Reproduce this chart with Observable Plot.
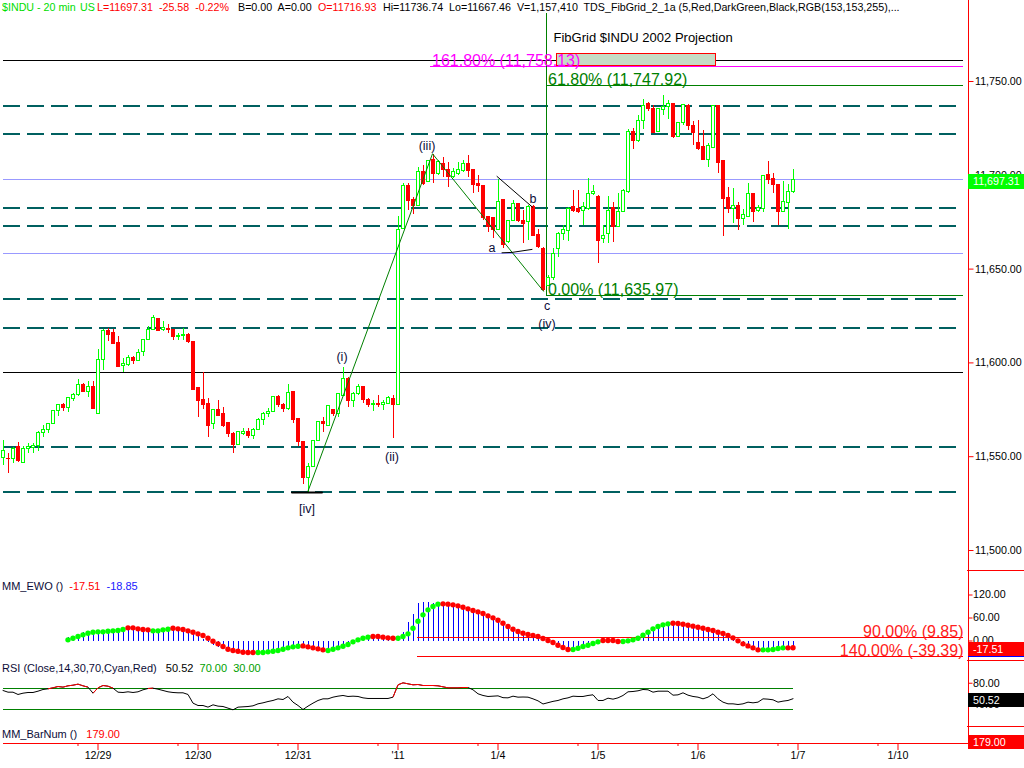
<!DOCTYPE html>
<html><head><meta charset="utf-8">
<script src="https://cdn.jsdelivr.net/npm/d3@7"></script>
<script src="https://cdn.jsdelivr.net/npm/@observablehq/plot@0.6"></script>
<style>
html,body{margin:0;padding:0;background:#fff;}
#chart{position:relative;width:1024px;height:768px;overflow:hidden;font-family:"Liberation Sans",Arial,Helvetica,sans-serif;}
.pane{position:absolute;left:0;width:1024px;}
.pane svg{display:block;}
.lbl{position:absolute;white-space:pre;font-size:11px;line-height:14px;}
.hdr{position:absolute;white-space:pre;font-size:10.7px;line-height:14px;}
.box{position:absolute;left:968px;width:56px;color:#fff;font-size:10.7px;box-sizing:border-box;padding-left:5px;}
.sep{position:absolute;left:967px;width:57px;height:1px;background:#f00;}
</style></head><body>
<div id="chart"></div>
<script>
// ---------------- data ----------------
const dateLabels = ["12/29","12/30","12/31","'11","1/4","1/5","1/6","1/7","1/10"];
const dateTickBars = [19,39,59,79,99,119,139,159,179];
const minorTickBars = [15,35,55,75,95,115,135,155,175];

const open = [11549.4,11549.0,11548.9,11555.1,11546.4,11554.2,11554.7,11555.5,11562.6,11564.2,
11567.5,11574.1,11577.7,11576.1,11580.5,11582.8,11588.3,11584.4,11587.4,11572.9,
11601.6,11617.1,11615.7,11610.4,11598.3,11599.0,11602.4,11601.0,11605.7,11612.3,
11617.6,11623.5,11617.6,11618.2,11617.8,11613.7,11614.1,11615.1,11611.4,11586.4,
11580.0,11578.2,11567.2,11575.0,11572.9,11567.9,11562.2,11556.0,11562.2,11563.1,
11560.9,11564.3,11569.7,11572.7,11573.7,11581.7,11577.7,11575.5,11584.4,11570.2,
11558.1,11538.7,11544.4,11558.3,11568.4,11566.6,11575.0,11572.5,11582.6,11591.5,
11579.6,11583.5,11587.4,11580.3,11577.3,11578.2,11577.7,11578.2,11580.9,11577.7,
11671.5,11694.2,11686.6,11683.9,11702.0,11696.3,11707.9,11700.8,11706.1,11702.6,
11699.0,11700.8,11702.2,11706.1,11702.6,11695.5,11694.2,11677.7,11677.3,11670.6,
11686.6,11664.4,11675.9,11684.8,11675.9,11675.0,11683.0,11668.3,11660.8,11640.9,
11645.4,11660.8,11668.8,11670.2,11683.0,11682.1,11680.9,11682.1,11689.8,11688.7,
11666.1,11668.8,11682.7,11672.7,11680.4,11691.0,11723.0,11718.2,11728.9,11738.1,
11735.4,11723.0,11734.9,11736.3,11738.1,11720.3,11728.0,11736.8,11726.5,11717.1,
11715.0,11708.4,11714.6,11736.7,11707.4,11687.8,11682.1,11683.9,11676.8,11678.0,
11690.1,11681.2,11682.1,11699.9,11698.1,11694.9,11680.4,11685.1,11691.0];
const high = [11558.6,11551.5,11555.1,11557.4,11555.6,11556.9,11556.9,11563.4,11566.6,11567.9,
11574.6,11577.7,11578.2,11581.7,11583.9,11591.2,11589.2,11589.9,11590.3,11607.0,
11617.6,11618.3,11617.6,11614.1,11602.2,11604.0,11603.6,11607.2,11612.5,11619.4,
11625.3,11623.5,11621.9,11620.5,11617.8,11615.9,11618.5,11615.9,11611.4,11586.4,
11594.7,11580.9,11575.0,11580.0,11576.4,11568.4,11563.1,11563.1,11564.9,11564.9,
11564.9,11570.2,11573.7,11575.5,11582.1,11582.6,11578.2,11588.5,11584.4,11570.2,
11558.1,11546.2,11558.6,11568.4,11570.7,11576.8,11575.4,11583.2,11597.4,11592.4,
11584.4,11588.5,11587.4,11580.9,11580.0,11582.6,11580.0,11582.1,11582.6,11678.0,
11695.5,11695.5,11688.4,11704.0,11705.2,11707.5,11711.0,11707.9,11709.7,11707.0,
11703.4,11707.0,11707.9,11710.6,11702.6,11699.9,11694.2,11678.1,11677.3,11697.6,
11686.6,11675.9,11686.6,11684.8,11681.2,11683.9,11683.9,11671.0,11661.7,11646.6,
11660.8,11669.7,11673.2,11683.0,11691.9,11691.9,11685.7,11698.1,11694.6,11689.2,
11673.2,11688.7,11685.7,11690.5,11692.3,11724.2,11724.8,11731.9,11740.2,11738.6,
11737.2,11735.4,11742.5,11739.9,11738.1,11728.0,11737.7,11737.7,11728.9,11729.2,
11723.9,11717.1,11736.7,11736.7,11707.4,11693.7,11693.1,11685.7,11681.6,11695.5,
11690.5,11683.9,11699.4,11707.4,11700.8,11694.9,11696.7,11695.1,11703.1];
const low = [11545.3,11541.2,11546.2,11547.1,11546.2,11551.5,11551.9,11553.0,11560.4,11562.6,
11567.2,11571.6,11574.3,11573.7,11579.6,11582.3,11584.4,11581.7,11575.4,11572.9,
11596.0,11611.6,11610.0,11597.7,11595.1,11598.3,11599.0,11600.8,11603.6,11612.3,
11617.1,11616.6,11616.9,11615.9,11612.0,11612.0,11612.0,11610.5,11585.5,11571.1,
11575.0,11560.4,11564.3,11571.6,11565.4,11560.4,11551.9,11556.0,11561.3,11559.5,
11559.0,11563.9,11566.6,11571.1,11573.7,11576.1,11573.7,11574.6,11567.5,11555.4,
11535.2,11531.1,11544.4,11558.3,11563.1,11566.6,11571.5,11571.1,11582.1,11576.1,
11576.4,11582.6,11578.2,11576.1,11574.3,11576.1,11574.6,11577.8,11559.9,11577.7,
11671.5,11681.2,11679.0,11683.9,11694.6,11696.3,11695.5,11699.9,11699.0,11693.7,
11698.1,11699.9,11701.7,11699.0,11690.1,11691.0,11675.9,11669.7,11666.1,11670.6,
11660.8,11663.5,11675.9,11675.0,11663.5,11665.2,11667.9,11660.8,11638.2,11640.9,
11643.9,11656.4,11665.2,11664.9,11680.4,11679.8,11673.2,11681.2,11689.2,11652.8,
11663.5,11663.8,11664.4,11672.7,11680.4,11690.5,11713.8,11717.7,11724.2,11734.2,
11722.5,11723.0,11731.9,11729.6,11719.4,11720.3,11726.5,11723.9,11715.9,11713.2,
11708.4,11704.3,11714.6,11701.1,11667.6,11679.5,11674.5,11670.6,11673.2,11677.7,
11675.0,11680.4,11680.4,11695.1,11690.5,11673.2,11680.4,11670.9,11690.5];
const close = [11553.3,11548.7,11554.2,11547.5,11554.2,11555.1,11555.5,11562.9,11564.3,11567.5,
11574.5,11577.3,11575.9,11581.4,11583.0,11588.3,11584.4,11587.4,11575.4,11601.6,
11617.1,11614.8,11610.0,11597.7,11599.2,11602.4,11600.8,11605.4,11612.1,11617.8,
11624.0,11616.8,11618.5,11617.3,11613.7,11614.6,11615.1,11611.1,11585.5,11579.6,
11577.3,11566.6,11575.0,11571.6,11566.6,11562.2,11556.0,11563.1,11563.1,11560.8,
11564.3,11569.7,11572.7,11573.7,11581.7,11577.7,11575.5,11584.0,11569.7,11557.8,
11538.7,11544.4,11558.6,11568.4,11567.2,11576.8,11572.5,11583.2,11591.5,11579.6,
11583.5,11587.1,11580.3,11577.3,11578.2,11577.3,11578.6,11581.4,11577.7,11670.9,
11694.2,11686.2,11683.9,11701.7,11695.5,11707.5,11700.8,11707.0,11702.6,11699.0,
11701.7,11702.6,11705.8,11702.2,11694.6,11694.1,11677.3,11672.7,11670.9,11685.7,
11662.6,11675.9,11684.8,11675.9,11674.1,11683.0,11667.9,11661.7,11639.0,11645.4,
11658.2,11668.8,11670.9,11682.1,11681.2,11680.4,11683.0,11690.1,11691.0,11665.2,
11667.4,11681.2,11672.4,11680.4,11691.4,11723.0,11718.2,11728.9,11737.2,11735.1,
11722.5,11735.4,11736.3,11738.1,11720.3,11728.0,11737.6,11726.2,11722.5,11714.1,
11708.4,11715.4,11736.7,11706.5,11687.3,11682.1,11683.9,11676.8,11678.6,11690.1,
11680.4,11682.5,11699.4,11697.6,11694.9,11680.4,11686.0,11691.0,11697.31];

// Fib grid levels
const dashedLevels = [11737.2,11722.0,11682.7,11673.1,11634.1,11618.7,11555.3,11531.4];
const lavenderLevels = [11697.6,11658.2];
const blackLevels = [11761.2,11594.7];
const projLevels = [
  {level: 11758.13, start: 85.5, label: "161.80% (11,758.13)", color: "magenta"},
  {level: 11747.92, start: 108.7, label: "61.80% (11,747.92)", color: "green"},
  {level: 11635.97, start: 108.7, label: "0.00% (11,635.97)", color: "green"}
];
const projAnchorBar = 108.7, projTop = 11786;
const projBox = [{b1: 110.8, b2: 142.6, p1: 11758.0, p2: 11764.4}];
const projTitle = [{i: 110.1, p: 11773.4, t: "FibGrid $INDU 2002 Projection"}];
const gridEnd = 192.1;

// Elliott wave count
const waveMain = [{i: 60.9, p: 11530.9}, {i: 85.9, p: 11711.5}, {i: 108.1, p: 11638.2}];
const waveB = [{i: 98.8, p: 11699.4}, {i: 105.9, p: 11683.0}];
const waveA = [{i: 99.8, p: 11658.7}, {i: 101.8, p: 11658.9}, {i: 105.8, p: 11660.5}];
const waveBase = [{i: 57.8, p: 11530.9}, {i: 63.8, p: 11530.9}];
const waveLabels = [
  {i: 60.8, p: 11521.9, t: "[iv]"}, {i: 67.8, p: 11603.4, t: "(i)"},
  {i: 77.8, p: 11549.6, t: "(ii)"}, {i: 84.8, p: 11715.6, t: "(iii)"},
  {i: 97.8, p: 11661.5, t: "a"}, {i: 106, p: 11687.6, t: "b"},
  {i: 108.8, p: 11630.1, t: "c"}, {i: 108.8, p: 11621.0, t: "(iv)"}
];
const priceTicks = [11500,11550,11600,11650,11700,11750];

// MM_EWO (first value at bar 13)
const ewoStart = 13;
const ewoDots = [3.0,7.3,11.7,16.0,20.4,23.0,23.9,23.9,25.6,26.5,
27.4,30.0,34.3,34.3,31.7,30.0,29.1,26.5,26.5,29.1,
30.8,33.4,31.7,30.0,26.5,23.0,18.7,14.3,7.3,-0.5,
-7.4,-14.4,-21.4,-24.8,-26.6,-29.2,-30.0,-30.0,-30.0,-30.0,
-28.3,-26.6,-24.8,-21.4,-17.9,-15.3,-13.5,-12.7,-15.3,-17.9,
-20.5,-23.1,-24.8,-21.4,-17.9,-13.5,-9.2,-2.2,3.0,7.3,
10.0,11.7,11.7,10.0,8.2,7.3,7.3,11.7,18.7,33.4,
51.7,68.2,81.3,90.0,96.1,96.9,96.1,94.3,91.7,88.2,
83.9,79.5,76.1,71.7,65.6,60.4,54.3,46.5,37.8,30.8,
24.7,20.4,16.9,14.3,11.7,6.5,1.3,-4.0,-10.9,-17.0,
-22.2,-22.2,-18.7,-14.4,-10.9,-6.6,-2.2,1.3,1.3,1.3,
-1.3,-1.3,0.4,3.0,7.3,15.2,23.0,31.7,37.8,42.1,
44.7,46.5,45.6,43.9,41.3,38.7,36.0,33.4,30.0,27.4,
23.0,19.5,14.3,8.2,0.4,-7.4,-12.7,-17.9,-23.1,-23.1,
-23.1,-22.2,-19.6,-17.9,-17.9,-17.51];
const ewoHist = [8,12,17,21,23,24,24.5,25,26,28,
31,34,34,32,30,28,26,27,29,31,
33,31,28,25,21,16,11,3,-4,-11,
-18,-23,-26,-28,-30,-30,-31,-30,-30,-29,
-27,-25,-22,-19,-16,-14,-13,-14,-17,-19,
-22,-24,-23,-19,-15,-11,-5,1,5,9,
11,12,11,9,8,7,9,23,49,70,
97,100,100,99,98,97,95,92,89,85,
81,77,73,68,62,56,49,41,34,27,
22,18,15,12,8,3,-2,-8,-14,-20,
-23,-21,-17,-12,-8,-4,0,2,1,0,
-1,1,3,6,12,20,28,35,41,44,
46,46,44,42,40,37,34,31,28,24,
20,15,9,3,-4,-11,-16,-21,-23,-23,
-22,-21,-19,-18,-18.5,-18.85];
const ewoRuns = [["up",12],["down",5],["up",4],["down",17],["up",9],["down",5],["up",9],["down",5],
  ["up",9],["down",26],["up",6],["down",4],["up",10],["down",18],["up",5],["down",2]];
const ewoFib = [{v: 9.85, label: "90.00% (9.85)"}, {v: -39.39, label: "140.00% (-39.39)"}];
const ewoFibStart = 82.8;
const ewoTicks = [120, 60, 0];

// RSI (Close,14)
const rsi = [66.2,63.0,63.0,58.6,61.1,62.4,62.4,64.9,68.1,69.4,
71.3,73.8,72.6,75.1,76.3,78.3,75.1,72.6,61.1,71.3,
75.7,74.4,70.6,63.0,62.4,63.7,62.4,63.7,67.5,70.0,
70.6,68.7,66.2,63.7,62.4,61.8,61.8,58.6,42.1,37.6,
37.6,34.5,38.9,36.4,35.7,32.6,29.4,34.5,35.1,35.7,
37.0,40.8,42.7,45.2,47.2,50.3,49.0,54.8,44.0,37.6,
30.0,36.4,42.1,47.2,50.3,50.3,53.5,55.4,56.7,54.8,
55.4,54.8,52.2,51.0,51.0,51.0,51.0,51.0,53.5,77.0,
80.8,78.9,77.0,77.6,75.7,75.7,75.7,75.1,73.2,71.3,
71.3,71.3,71.9,71.9,67.5,59.9,56.7,54.8,55.4,56.0,
52.5,52.2,55.4,53.5,53.8,53.5,50.3,46.5,40.5,43.0,
45.5,47.2,50.3,52.2,55.4,54.8,54.8,56.7,58.0,47.2,
47.2,51.6,49.7,52.2,56.7,63.7,64.3,65.6,68.1,67.5,
63.0,64.9,64.9,64.9,57.3,57.9,61.8,57.3,54.8,53.5,
50.3,53.5,59.9,50.3,44.0,40.8,40.8,39.5,40.8,44.0,
42.7,44.0,50.3,49.7,48.5,44.0,45.9,47.2,50.52];
const rsiBands = [30, 70];
const rsiTicks = [80, 40];

// ---------------- drawing ----------------
const FONT = '"Liberation Sans", Arial, Helvetica, sans-serif';
const RED = "#ff0000", LIME = "#00ff00", TEAL = "#006060", LAV = "#9999ff", DKGREEN = "#008000", NAVY = "#0c0c38";
const X_DOMAIN = [0, 193], X_RANGE = [2.5, 967.5];
const colorOf = {magenta: "#ff00ff", green: DKGREEN};
const chart = document.getElementById("chart");

const bars = close.map((c, i) => ({i, o: open[i], h: high[i], l: low[i], c}));
const upBars = bars.filter(d => d.c >= d.o);
const downBars = bars.filter(d => d.c < d.o);

const ewoState = ewoRuns.flatMap(([s, n]) => Array(n).fill(s));
const ewo = ewoDots.map((v, k) => ({i: ewoStart + k, dot: v, hist: ewoHist[k], state: ewoState[k]}));
const rsiData = rsi.map((v, i) => ({i, v}));
const rsiHot = rsiData.slice(1).filter(d => d.v > 70).map(d => ({i1: d.i - 1, v1: rsi[d.i - 1], i2: d.i, v2: d.v}));

function addPane(top, height, marginBottom, yDomain, marks) {
  const div = document.createElement("div");
  div.className = "pane";
  div.style.top = top + "px";
  div.appendChild(Plot.plot({
    width: 1024, height, marginLeft: 0, marginRight: 56.5, marginTop: 0, marginBottom,
    style: {fontFamily: FONT, fontSize: "10.7px", background: "transparent", overflow: "visible", color: "black"},
    x: {domain: X_DOMAIN, range: X_RANGE, axis: null},
    y: {domain: yDomain, axis: null},
    marks
  }));
  chart.appendChild(div);
}
const axisLine = Plot.ruleX([X_DOMAIN[1]], {stroke: RED, shapeRendering: "crispEdges"});

// price pane
addPane(0, 570, 0, [11489.34, 11793.18], [
  Plot.ruleY(dashedLevels, {x2: gridEnd, stroke: TEAL, strokeWidth: 2, strokeDasharray: "17,7", shapeRendering: "crispEdges"}),
  Plot.ruleY(lavenderLevels, {x2: gridEnd, stroke: LAV, shapeRendering: "crispEdges"}),
  Plot.ruleY(blackLevels, {x2: gridEnd, stroke: "black", shapeRendering: "crispEdges"}),
  Plot.ruleY(projLevels, {y: "level", x1: "start", x2: gridEnd, stroke: d => colorOf[d.color], shapeRendering: "crispEdges"}),
  Plot.ruleX([projAnchorBar], {y1: projLevels[2].level, y2: projTop, stroke: DKGREEN, shapeRendering: "crispEdges"}),
  Plot.rect(projBox, {x1: "b1", x2: "b2", y1: "p1", y2: "p2", fill: "#c5dcc5", stroke: RED, shapeRendering: "crispEdges"}),
  Plot.ruleX(bars, {x: "i", y1: "l", y2: "h", stroke: d => d.c >= d.o ? LIME : RED, shapeRendering: "crispEdges"}),
  Plot.rect(downBars, {x1: d => d.i - 0.3, x2: d => d.i + 0.3, y1: "o", y2: "c", fill: RED, stroke: RED, shapeRendering: "crispEdges"}),
  Plot.rect(upBars, {x1: d => d.i - 0.3, x2: d => d.i + 0.3, y1: "o", y2: "c", fill: "white", stroke: LIME, shapeRendering: "crispEdges"}),
  Plot.line(waveMain, {x: "i", y: "p", stroke: DKGREEN, strokeWidth: 1}),
  Plot.line(waveB, {x: "i", y: "p", stroke: "black", strokeWidth: 1}),
  Plot.line(waveA, {x: "i", y: "p", stroke: "black", strokeWidth: 1}),
  Plot.line(waveBase, {x: "i", y: "p", stroke: "black", strokeWidth: 2}),
  Plot.text(waveLabels, {x: "i", y: "p", text: "t", fill: NAVY, fontSize: 12.5}),
  Plot.text(projLevels, {x: d => d.start + 0.3, y: "level", text: "label", textAnchor: "start", lineAnchor: "bottom", fill: d => colorOf[d.color], fontSize: 16}),
  Plot.text(projTitle, {x: "i", y: "p", text: "t", textAnchor: "start", fill: "black", fontSize: 13}),
  Plot.axisY({anchor: "right", ticks: priceTicks, tickFormat: d3.format(",.2f"), tickSize: 5, tickPadding: 2, stroke: RED, fill: "black", fontSize: 10.7, label: null}),
  axisLine
]);

// EWO pane
addPane(570, 90, 0, [-50.85, 183.93], [
  Plot.ruleX(ewo, {x: "i", y1: 0, y2: "hist", stroke: "#0000ff", shapeRendering: "crispEdges"}),
  Plot.ruleY(ewoFib, {y: "v", x1: ewoFibStart, x2: gridEnd, stroke: RED, shapeRendering: "crispEdges"}),
  Plot.text(ewoFib, {x: gridEnd, y: "v", text: "label", textAnchor: "end", lineAnchor: "bottom", fill: "#ff2020", fontSize: 16}),
  Plot.dot(ewo.filter(d => d.state === "up"), {x: "i", y: "dot", r: 2.7, fill: LIME}),
  Plot.dot(ewo.filter(d => d.state === "down"), {x: "i", y: "dot", r: 2.7, fill: RED}),
  Plot.axisY({anchor: "right", ticks: ewoTicks, tickFormat: d3.format(".2f"), tickSize: 4, tickPadding: 1, stroke: RED, fill: "black", fontSize: 10.7, label: null}),
  axisLine
]);

// RSI pane
addPane(660, 66, 0, [-2.38, 123.33], [
  Plot.ruleY(rsiBands, {x1: 0, x2: close.length - 1, stroke: DKGREEN, shapeRendering: "crispEdges"}),
  Plot.line(rsiData, {x: "i", y: "v", stroke: "black", strokeWidth: 1}),
  Plot.link(rsiHot, {x1: "i1", y1: "v1", x2: "i2", y2: "v2", stroke: RED, strokeWidth: 1}),
  Plot.axisY({anchor: "right", ticks: rsiTicks, tickFormat: d3.format(".2f"), tickSize: 4, tickPadding: 1, stroke: RED, fill: "black", fontSize: 10.7, label: null}),
  axisLine
]);

// bar-number pane + date axis
addPane(726, 42, 25, [0, 1], [
  Plot.ruleY([0], {x2: X_DOMAIN[1], stroke: RED, shapeRendering: "crispEdges"}),
  Plot.axisX({anchor: "bottom", ticks: minorTickBars, tickFormat: () => "", tickSize: 3, stroke: RED, label: null}),
  Plot.axisX({anchor: "bottom", ticks: dateTickBars, tickFormat: d => dateLabels[dateTickBars.indexOf(d)], tickSize: 7, tickPadding: 1, stroke: RED, fill: "black", fontSize: 10.7, label: null}),
  axisLine
]);

// ---------------- text overlays ----------------
function addHTML(html) { chart.insertAdjacentHTML("beforeend", html); }
addHTML(`<div class="hdr" style="left:2px;top:0px;color:#00dd00">$INDU - 20 min</div>`);
addHTML(`<div class="hdr" style="left:80px;top:0px;color:#00dd00">US</div>`);
addHTML(`<div class="hdr" style="left:97px;top:0px;color:#ff0000">L=11697.31  -25.58  -0.22%</div>`);
addHTML(`<div class="hdr" style="left:238px;top:0px;color:#000">B=0.00  A=0.00</div>`);
addHTML(`<div class="hdr" style="left:318px;top:0px;color:#ff0000">O=11716.93</div>`);
addHTML(`<div class="hdr" style="left:383px;top:0px;color:#000">Hi=11736.74  Lo=11667.46  V=1,157,410  TDS_FibGrid_2_1a (5,Red,DarkGreen,Black,RGB(153,153,255),...</div>`);

addHTML(`<div class="lbl" style="left:2px;top:579px;color:${NAVY}">MM_EWO ()  <span style="color:#ff0000">-17.51</span>  <span style="color:#2020ff">-18.85</span></div>`);
addHTML(`<div class="lbl" style="left:2px;top:661px;color:${NAVY}">RSI (Close,14,30,70,Cyan,Red)   <span style="color:#000">50.52</span>  <span style="color:#00a000">70.00</span>  <span style="color:#00a000">30.00</span></div>`);
addHTML(`<div class="lbl" style="left:2px;top:727px;color:${NAVY}">MM_BarNum ()   <span style="color:#ff0000">179.00</span></div>`);

addHTML(`<div class="sep" style="top:570px"></div><div class="sep" style="top:660px"></div><div class="sep" style="top:726px"></div>`);
addHTML(`<div class="box" style="top:174px;height:15px;line-height:15px;background:${LIME}">11,697.31</div>`);
addHTML(`<div class="box" style="top:642px;height:14px;line-height:14px;background:#ff0000">-17.51</div>`);
addHTML(`<div class="box" style="top:656px;height:1px;background:#0000ff;padding:0"></div>`);
addHTML(`<div class="box" style="top:693px;height:14px;line-height:14px;background:#000">50.52</div>`);
addHTML(`<div class="box" style="top:735px;height:14px;line-height:14px;background:#ff0000">179.00</div>`);
</script>
</body></html>
